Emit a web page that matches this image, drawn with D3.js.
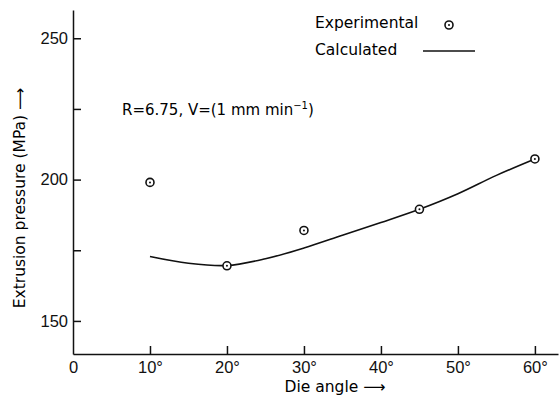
<!DOCTYPE html>
<meta charset="utf-8">
<style>
    body { margin: 0; background: #fff; }
    svg { font-family: "DejaVu Sans", sans-serif; }
    .axis path, .axis line { stroke: #111; stroke-width: 1.5px; }
    .axis text { font-size: 16.5px; fill: #111; }
    .calc { fill: none; stroke: #111; stroke-width: 1.6px; }
    .exp circle.ring { fill: #fff; stroke: #111; stroke-width: 1.6px; }
    .exp circle.dot { fill: #111; }
</style>
<svg width="559" height="396"></svg>
<script src="https://d3js.org/d3.v7.min.js"></script>
<script>

    // die angle (deg) vs extrusion pressure (MPa)
    var expAngles = [10, 20, 30, 45, 60];
    var expPressure = [199, 169.5, 182, 189.5, 207.3];

    var calcAngles = [10, 15, 20, 25, 30, 35, 40, 45, 50, 55, 60];
    var calcPressure = [172.8, 170.4, 169.6, 172, 175.8, 180.3, 184.8, 189.5, 195, 201.5, 207.3];

    var xTicks = [0, 10, 20, 30, 40, 50, 60];
    var yTicks = [150, 175, 200, 225, 250];

    var svg = d3.select("svg");

    var x = d3.scaleLinear().domain([0, 63]).range([73, 558]);
    var y = d3.scaleLinear().domain([138.3, 260]).range([354, 10]);

    // axes
    svg.append("g")
        .attr("class", "axis")
        .attr("transform", "translate(0,354)")
        .call(d3.axisBottom(x)
            .tickValues(xTicks)
            .tickSize(-8)
            .tickSizeOuter(0)
            .tickPadding(5)
            .tickFormat(function (d) { return d === 0 ? "0" : d + "°"; }))
        .call(function (g) {
            g.selectAll(".tick text").attr("dy", "0.85em");
            g.selectAll(".tick line").filter(function (d) { return d === 0; }).remove();
        });

    svg.append("g")
        .attr("class", "axis")
        .attr("transform", "translate(73,0)")
        .call(d3.axisLeft(y)
            .tickValues(yTicks)
            .tickSize(-8)
            .tickSizeOuter(0)
            .tickPadding(5)
            .tickFormat(function (d) { return d % 50 === 0 ? d : ""; }));

    // axis titles
    svg.append("text")
        .attr("x", 335)
        .attr("y", 392)
        .attr("text-anchor", "middle")
        .style("font-size", "15.5px")
        .text("Die angle ⟶");

    svg.append("text")
        .attr("transform", "translate(25,198) rotate(-90)")
        .attr("text-anchor", "middle")
        .style("font-size", "15.5px")
        .text("Extrusion pressure (MPa) ⟶");

    // calculated curve
    var line = d3.line()
        .x(function (d, i) { return x(calcAngles[i]); })
        .y(function (d) { return y(d); })
        .curve(d3.curveCatmullRom);

    svg.append("path")
        .attr("class", "calc")
        .attr("d", line(calcPressure));

    // experimental points
    var pts = svg.append("g").attr("class", "exp")
        .selectAll("g")
        .data(expPressure)
        .enter().append("g")
        .attr("transform", function (d, i) {
            return "translate(" + x(expAngles[i]) + "," + y(d) + ")";
        });
    pts.append("circle").attr("class", "ring").attr("r", 4);
    pts.append("circle").attr("class", "dot").attr("r", 1);

    // annotation
    var ann = svg.append("text")
        .attr("x", 122)
        .attr("y", 115)
        .style("font-size", "15px");
    ann.append("tspan").text("R=6.75,  V=(1 mm min");
    ann.append("tspan").attr("dy", -6).style("font-size", "10px").text("−1");
    ann.append("tspan").attr("dy", 6).text(")");

    // legend
    var legend = svg.append("g");
    legend.append("text").attr("x", 315).attr("y", 28).style("font-size", "15.5px").text("Experimental");
    legend.append("text").attr("x", 315).attr("y", 55).style("font-size", "15.5px").text("Calculated");

    var lg = legend.append("g").attr("class", "exp").attr("transform", "translate(449,25)");
    lg.append("circle").attr("class", "ring").attr("r", 4);
    lg.append("circle").attr("class", "dot").attr("r", 1);

    legend.append("line")
        .attr("x1", 423).attr("x2", 475)
        .attr("y1", 51).attr("y2", 51)
        .attr("stroke", "#111")
        .attr("stroke-width", 1.6);

</script>
